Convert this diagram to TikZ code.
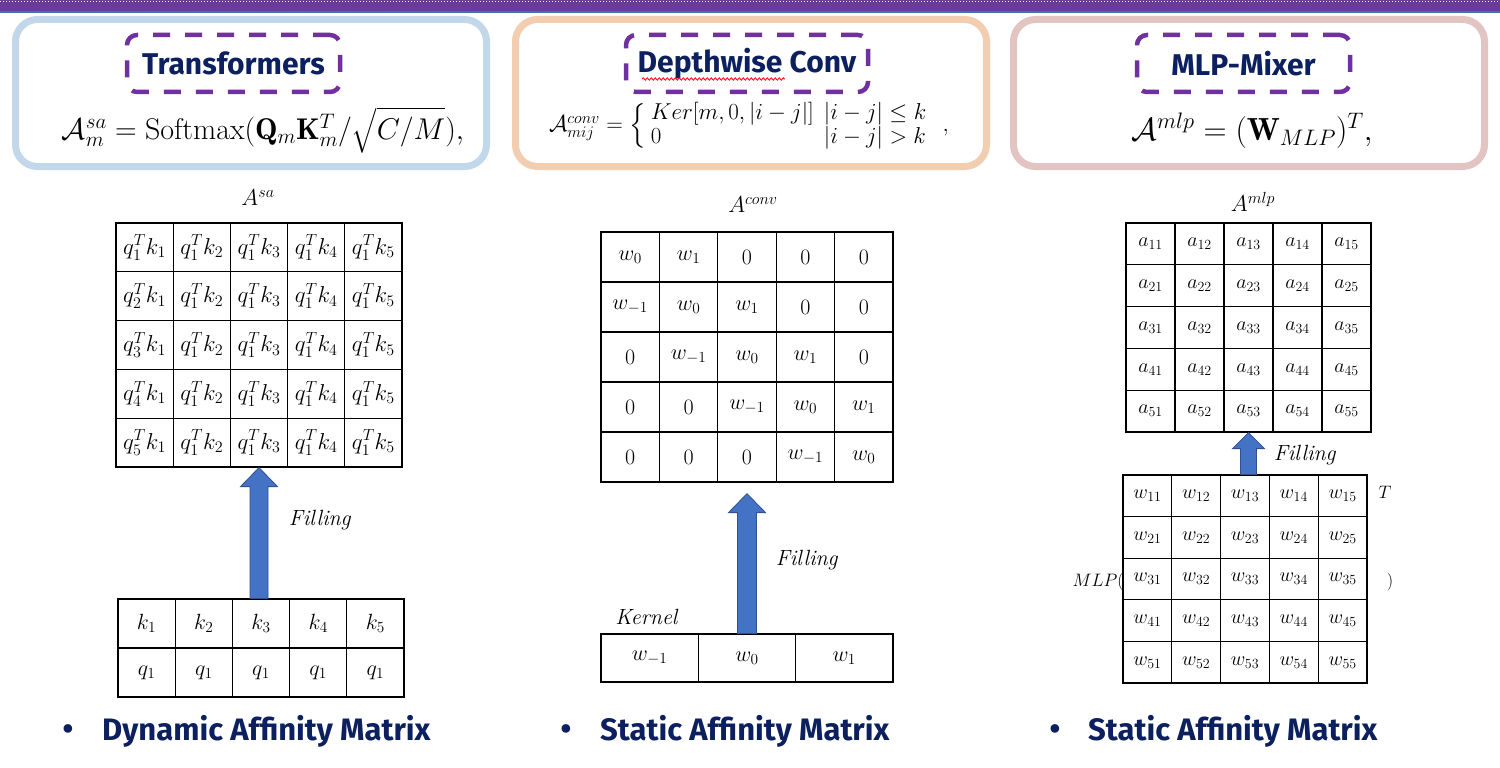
\RequirePackage{fix-cm}
\documentclass[tikz,border=0pt]{standalone}
\usepackage{fontspec}
\usepackage{amsmath}
\usetikzlibrary{matrix,calc,decorations.pathmorphing}
\newfontfamily\titlefont{Fira Sans}

\definecolor{bandpurple}{RGB}{106,59,152}
\definecolor{bandblue}{RGB}{72,112,160}
\definecolor{boxpurple}{RGB}{112,48,160}
\definecolor{titlenavy}{RGB}{12,32,96}
\definecolor{panelblue}{RGB}{195,215,235}
\definecolor{panelpeach}{RGB}{243,205,176}
\definecolor{panelpink}{RGB}{226,196,194}
\definecolor{arrowblue}{RGB}{68,114,196}
\definecolor{arrowedge}{RGB}{47,82,143}

\tikzset{
  panel/.style={line width=7pt, rounded corners=22pt},
  titlebox/.style={draw=boxpurple, line width=4.5pt, dash pattern=on 17pt off 15pt,
    rounded corners=10pt, minimum width=#1, minimum height=57pt, inner sep=0pt,
    text=titlenavy, font=\titlefont\bfseries\fontsize{30}{33}\selectfont},
  cell/.style={draw, line width=1.2pt, inner sep=0pt, anchor=center},
  filling/.style={fill=arrowblue, draw=arrowedge, line width=0.8pt},
  mathlabel/.style={inner sep=0pt, font=\fontsize{23}{27}\selectfont},
  fillinglbl/.style={inner sep=0pt, font=\fontsize{22}{26}\selectfont},
  bottomtext/.style={inner sep=0pt, text=titlenavy, font=\titlefont\bfseries\fontsize{31}{34}\selectfont},
}

\begin{document}
\begin{tikzpicture}[x=1pt, y=-1pt]
\useasboundingbox (0,0) rectangle (1500,768);
\fill [white] (0,0) rectangle (1500,768);

% полоса сверху
\fill [bandpurple] (0,0) rectangle (1500,11);
\draw [white, dotted, line width=1pt] (0,1.5) -- (1500,1.5);
\draw [bandblue, line width=1.2pt] (0,12) -- (1500,12);

% панели
\draw [panel, panelblue] (15.5,19.5) rectangle (486.5,166.5);
\draw [panel, panelpeach] (515.5,19.5) rectangle (986.5,166.5);
\draw [panel, panelpink] (1013.5,19.5) rectangle (1484.5,166.5);

% заголовки
\node [titlebox=213pt] (ttlsa) at (233.5,63.5) {Transformers};
\node [titlebox=242pt] (ttlconv) at (747,63.5) {Depthwise Conv};
\node [titlebox=213pt] (ttlmlp) at (1243.5,63.5) {MLP-Mixer};
\draw [red, line width=0.8pt, decorate, decoration={snake, amplitude=1.2pt, segment length=4pt}] (642,79) -- (785,79);

% формулы
\node [inner sep=0pt, font=\fontsize{30}{34}\selectfont] (fsa) at (263,130)
  {$\mathcal{A}_m^{sa} = \mathrm{Softmax}(\mathbf{Q}_m\mathbf{K}_m^T/\sqrt{C/M}),$};
\node [inner sep=0pt, font=\fontsize{23}{23}\selectfont] (fconv) at (749,126)
  {$\mathcal{A}^{conv}_{mij} = \left\{\begin{array}{ll} Ker[m,0,|i-j|] & |i-j|\le k\\ 0 & |i-j|>k \end{array}\right.\;,$};
\node [inner sep=0pt, font=\fontsize{32}{36}\selectfont] (fmlp) at (1252,131)
  {$\mathcal{A}^{mlp} = (\mathbf{W}_{MLP})^T,$};

% матрица A^sa
\node [mathlabel] (lblsa) at (258,198) {$A^{sa}$};
\matrix (asa) [matrix of math nodes, inner sep=0pt, column sep=-1.2pt, row sep=-1.2pt,
  nodes={cell, minimum width=57.2pt, minimum height=48.8pt, font=\fontsize{23}{27}\selectfont}] at (259,345) {
q_1^Tk_1 & q_1^Tk_2 & q_1^Tk_3 & q_1^Tk_4 & q_1^Tk_5 \\
q_2^Tk_1 & q_1^Tk_2 & q_1^Tk_3 & q_1^Tk_4 & q_1^Tk_5 \\
q_3^Tk_1 & q_1^Tk_2 & q_1^Tk_3 & q_1^Tk_4 & q_1^Tk_5 \\
q_4^Tk_1 & q_1^Tk_2 & q_1^Tk_3 & q_1^Tk_4 & q_1^Tk_5 \\
q_5^Tk_1 & q_1^Tk_2 & q_1^Tk_3 & q_1^Tk_4 & q_1^Tk_5 \\
};
\matrix (kq) [matrix of math nodes, inner sep=0pt, column sep=-1.2pt, row sep=-1.2pt,
  nodes={cell, minimum width=57.2pt, minimum height=49pt, font=\fontsize{22}{26}\selectfont}] at (261,648) {
k_1 & k_2 & k_3 & k_4 & k_5 \\
q_1 & q_1 & q_1 & q_1 & q_1 \\
};
\draw [filling] let \p1=(asa-5-3.south), \p2=(kq-1-3.north) in
  (\x1-9pt,\y2) -- (\x1-9pt,\y1-19pt) -- (\x1-18.5pt,\y1-19pt) -- (\x1,\y1)
  -- (\x1+18.5pt,\y1-19pt) -- (\x1+9pt,\y1-19pt) -- (\x1+9pt,\y2) -- cycle;
\node [fillinglbl] (fillsa) at (320,520) {\textit{Filling}};

% матрица A^conv
\node [mathlabel] (lblconv) at (753,205) {$A^{conv}$};
\matrix (aconv) [matrix of math nodes, inner sep=0pt, column sep=-1.2pt, row sep=-1.2pt,
  nodes={cell, minimum width=58.4pt, minimum height=50pt, font=\fontsize{22}{26}\selectfont}] at (747,357) {
w_0 & w_1 & 0 & 0 & 0 \\
w_{-1} & w_0 & w_1 & 0 & 0 \\
0 & w_{-1} & w_0 & w_1 & 0 \\
0 & 0 & w_{-1} & w_0 & w_1 \\
0 & 0 & 0 & w_{-1} & w_0 \\
};
\matrix (kern) [matrix of math nodes, inner sep=0pt, column sep=-1.2pt,
  nodes={cell, minimum width=97.3pt, minimum height=48pt, font=\fontsize{22}{26}\selectfont}] at (747,658) {
w_{-1} & w_0 & w_1 \\
};
\node [fillinglbl] (kernel) at (647,617) {\textit{Kernel}};
\draw [filling] let \p1=($(aconv-5-3.south)+(0,11)$), \p2=(kern-1-2.north) in
  (\x1-9.5pt,\y2) -- (\x1-9.5pt,\y1-19pt) -- (\x1-18.5pt,\y1-19pt) -- (\x1,\y1)
  -- (\x1+18.5pt,\y1-19pt) -- (\x1+9.5pt,\y1-19pt) -- (\x1+9.5pt,\y2) -- cycle;
\node [fillinglbl] (fillconv) at (807,560) {\textit{Filling}};

% матрица A^mlp
\node [mathlabel] (lblmlp) at (1253,202) {$A^{mlp}$};
\matrix (amlp) [matrix of math nodes, inner sep=0pt, column sep=-1.2pt, row sep=-1.2pt,
  nodes={cell, minimum width=49pt, minimum height=41.8pt, font=\fontsize{20}{24}\selectfont}] at (1248.5,327.5) {
a_{11} & a_{12} & a_{13} & a_{14} & a_{15} \\
a_{21} & a_{22} & a_{23} & a_{24} & a_{25} \\
a_{31} & a_{32} & a_{33} & a_{34} & a_{35} \\
a_{41} & a_{42} & a_{43} & a_{44} & a_{45} \\
a_{51} & a_{52} & a_{53} & a_{54} & a_{55} \\
};
\matrix (wmlp) [matrix of math nodes, inner sep=0pt, column sep=-1.2pt, row sep=-1.2pt,
  nodes={cell, minimum width=48.8pt, minimum height=41.6pt, font=\fontsize{20}{24}\selectfont}] at (1245,579) {
w_{11} & w_{12} & w_{13} & w_{14} & w_{15} \\
w_{21} & w_{22} & w_{23} & w_{24} & w_{25} \\
w_{31} & w_{32} & w_{33} & w_{34} & w_{35} \\
w_{41} & w_{42} & w_{43} & w_{44} & w_{45} \\
w_{51} & w_{52} & w_{53} & w_{54} & w_{55} \\
};
\draw [filling] let \p1=(amlp-5-3.south), \p2=(wmlp-1-3.north) in
  (\x1-8pt,\y2) -- (\x1-8pt,\y1-16pt) -- (\x1-16pt,\y1-16pt) -- (\x1,\y1)
  -- (\x1+16pt,\y1-16pt) -- (\x1+8pt,\y1-16pt) -- (\x1+8pt,\y2) -- cycle;
\node [fillinglbl] (fillmlp) at (1305,455) {\textit{Filling}};
\node [mathlabel, anchor=east, font=\fontsize{18}{22}\selectfont] (mlpopen) at (1124,582) {$MLP($};
\node [mathlabel, font=\fontsize{18}{22}\selectfont] (mlpclose) at (1390,582) {$)$};
\node [mathlabel, font=\fontsize{18}{22}\selectfont] (mlpT) at (1385,492) {$T$};

% подписи снизу
\node [bottomtext] (dot1) at (68,732) {•};
\node [bottomtext, anchor=west] (dyn) at (102,731) {Dynamic Affinity Matrix};
\node [bottomtext] (dot2) at (566,732) {•};
\node [bottomtext, anchor=west] (stat1) at (600,731) {Static Affinity Matrix};
\node [bottomtext] (dot3) at (1055,732) {•};
\node [bottomtext, anchor=west] (stat2) at (1088,731) {Static Affinity Matrix};
\end{tikzpicture}
\end{document}
